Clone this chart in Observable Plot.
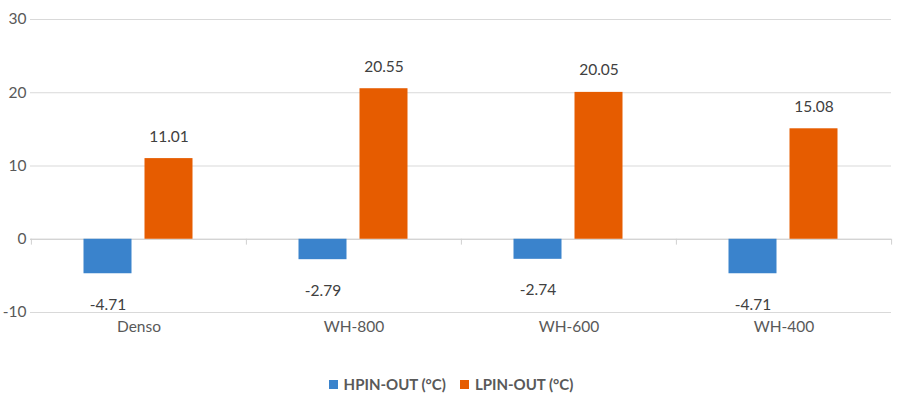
<!DOCTYPE html>
<html>
<head>
<meta charset="utf-8">
<script src="https://cdn.jsdelivr.net/npm/d3@7"></script>
<script src="https://cdn.jsdelivr.net/npm/@observablehq/plot@0.6"></script>
<style>
  html, body { margin: 0; padding: 0; background: #fff; }
  #chart { width: 900px; }
  .legend { height: 36px; margin-top: 6px; display: flex; justify-content: center; align-items: center; gap: 14px;
    font-family: Lato, "Open Sans", sans-serif; font-weight: bold; font-size: 15px; color: #595959; padding-left: 2px; }
  .legend span.sw { display: inline-block; width: 9px; height: 9px; margin-right: 6px; }
  .legend .item { display: flex; align-items: center; }
</style>
</head>
<body>
<div id="chart"></div>
<script>
const categories = ["Denso", "WH-800", "WH-600", "WH-400"];
const seriesNames = ["HPIN-OUT (°C)", "LPIN-OUT (°C)"];
const hpinOut = [-4.71, -2.79, -2.74, -4.71];
const lpinOut = [11.01, 20.55, 20.05, 15.08];
const yTicks = [-10, 0, 10, 20, 30];
const colors = ["#3A83CC", "#E65C00"];

const hData = categories.map((c, i) => ({cat: c, v: hpinOut[i]}));
const lData = categories.map((c, i) => ({cat: c, v: lpinOut[i]}));

const fmt = d => d.v.toFixed(2);
const FS = 15.5;

const plot = Plot.plot({
  width: 900,
  height: 360,
  marginTop: 19,
  marginBottom: 48,
  marginLeft: 30,
  marginRight: 9,
  style: {fontFamily: "Lato, 'Open Sans', sans-serif", fontSize: FS + "px", color: "#595959", background: "#fff"},
  x: {type: "band", domain: categories, padding: 0, label: null},
  y: {domain: [-10, 30], ticks: yTicks, label: null},
  marks: [
    Plot.gridY(yTicks, {stroke: "#d9d9d9", strokeOpacity: 1, strokeWidth: 1}),
    Plot.axisY(yTicks, {tickSize: 0, tickPadding: 4, fontSize: FS, fill: "#595959", tickFormat: d => String(d)}),
    Plot.axisX({tickSize: 0, tickPadding: 8, fontSize: FS, fill: "#595959"}),
    Plot.ruleY([0], {stroke: "#d0d0d0", strokeWidth: 1}),
    Plot.ruleX(categories, {x: d => d, dx: -107.6, y1: 0, y2: -0.8, stroke: "#d0d0d0"}),
    Plot.ruleX(categories.slice(-1), {x: d => d, dx: 107.6, y1: 0, y2: -0.8, stroke: "#d0d0d0"}),
    Plot.barY(hData, {x: "cat", y: "v", fill: colors[0], insetLeft: 52.5, insetRight: 114.5}),
    Plot.barY(lData, {x: "cat", y: "v", fill: colors[1], insetLeft: 113.5, insetRight: 53.5}),
    Plot.text(hData, {x: "cat", y: "v", text: fmt, dx: -31, dy: 31, fontSize: FS, fill: "#404040", lineAnchor: "middle"}),
    Plot.text(lData, {x: "cat", y: "v", text: fmt, dx: 30, dy: -22, fontSize: FS, fill: "#404040", lineAnchor: "middle"})
  ]
});
document.getElementById("chart").appendChild(plot);

const legend = document.createElement("div");
legend.className = "legend";
seriesNames.forEach((n, i) => {
  const it = document.createElement("div");
  it.className = "item";
  it.innerHTML = `<span class="sw" style="background:${colors[i]}"></span>${n}`;
  legend.appendChild(it);
});
document.body.appendChild(legend);
</script>
</body>
</html>
